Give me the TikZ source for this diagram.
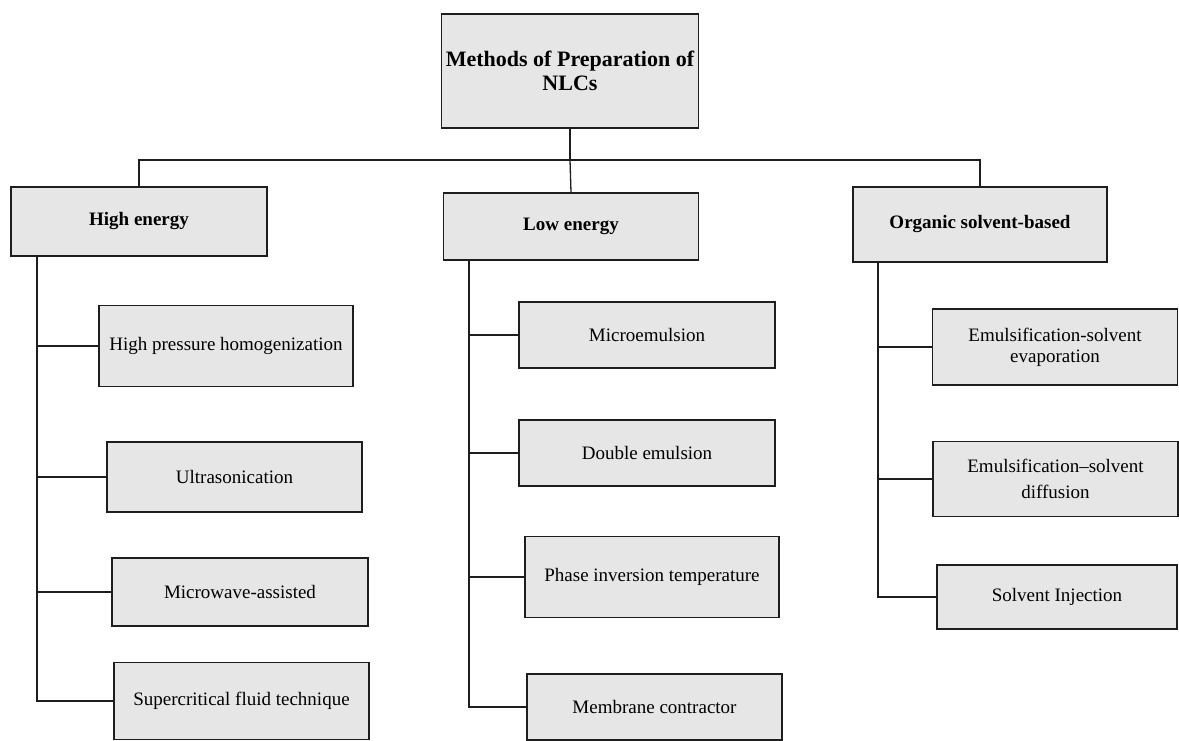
\documentclass[tikz,border=0pt]{standalone}
\usepackage{fontspec}
\setmainfont{Liberation Serif}
\definecolor{boxfill}{RGB}{230,230,230}
\definecolor{ink}{RGB}{30,30,30}
\begin{document}
\begin{tikzpicture}[x=1pt,y=-1pt,
  box/.style={draw=ink, fill=boxfill, line width=1.3pt, inner sep=2pt, align=center,
    font=\fontsize{19}{24}\selectfont},
  head/.style={box, font=\fontsize{19}{24}\selectfont\bfseries},
  titlebox/.style={box, font=\fontsize{22}{24}\selectfont\bfseries},
  link/.style={draw=ink, line width=1.3pt}]
\useasboundingbox (0,0) rectangle (1179,741);
\fill[white] (0,0) rectangle (1179,741);

% title and headings
\node[titlebox, minimum width=257, minimum height=114] (title) at (570,71) {Methods of Preparation of\\NLCs};
\node[head, minimum width=256, minimum height=69] (high) at (139,221.5) {High energy};
\node[head, minimum width=255, minimum height=67] (low) at (571,226.5) {Low energy};
\node[head, minimum width=254, minimum height=75] (org) at (980,224.5) {Organic solvent-based};

% high energy children
\node[box, minimum width=254, minimum height=81] (hph) at (226,346) {High pressure homogenization};
\node[box, minimum width=255, minimum height=70] (ultra) at (234.5,477) {Ultrasonication};
\node[box, minimum width=256, minimum height=68] (micro) at (240,592) {Microwave-assisted};
\node[box, minimum width=255, minimum height=77] (super) at (241.5,701) {Supercritical fluid technique};

% low energy children
\node[box, minimum width=256, minimum height=66] (memul) at (647,335) {Microemulsion};
\node[box, minimum width=256, minimum height=66] (double) at (647,453) {Double emulsion};
\node[box, minimum width=254, minimum height=81] (phase) at (652,577) {Phase inversion temperature};
\node[box, minimum width=255, minimum height=66] (membrane) at (654.5,707) {Membrane contractor};

% organic solvent children
\node[box, minimum width=245, minimum height=76, font=\fontsize{19}{21}\selectfont] (evap) at (1055,347) {Emulsification-solvent\\evaporation};
\node[box, minimum width=245, minimum height=75, font=\fontsize{19}{26}\selectfont] (diff) at (1055.5,479) {Emulsification--solvent\\diffusion};
\node[box, minimum width=240, minimum height=64] (solv) at (1057,597) {Solvent Injection};

% bus
\coordinate (bus) at (570,160);
\draw[link] (title.south) -- (bus);
\draw[link] (high.north) |- (org.north |- bus) -- (org.north);
\draw[link] (bus) -- (low.north);

% branch spines
\coordinate (hv) at (37,256);
\coordinate (lv) at (469,260);
\coordinate (ov) at (878,262);

\draw[link] (hv) |- (super.west);
\draw[link] (hv |- hph.west) -- (hph.west);
\draw[link] (hv |- ultra.west) -- (ultra.west);
\draw[link] (hv |- micro.west) -- (micro.west);

\draw[link] (lv) |- (membrane.west);
\draw[link] (lv |- memul.west) -- (memul.west);
\draw[link] (lv |- double.west) -- (double.west);
\draw[link] (lv |- phase.west) -- (phase.west);

\draw[link] (ov) |- (solv.west);
\draw[link] (ov |- evap.west) -- (evap.west);
\draw[link] (ov |- diff.west) -- (diff.west);
\end{tikzpicture}
\end{document}
